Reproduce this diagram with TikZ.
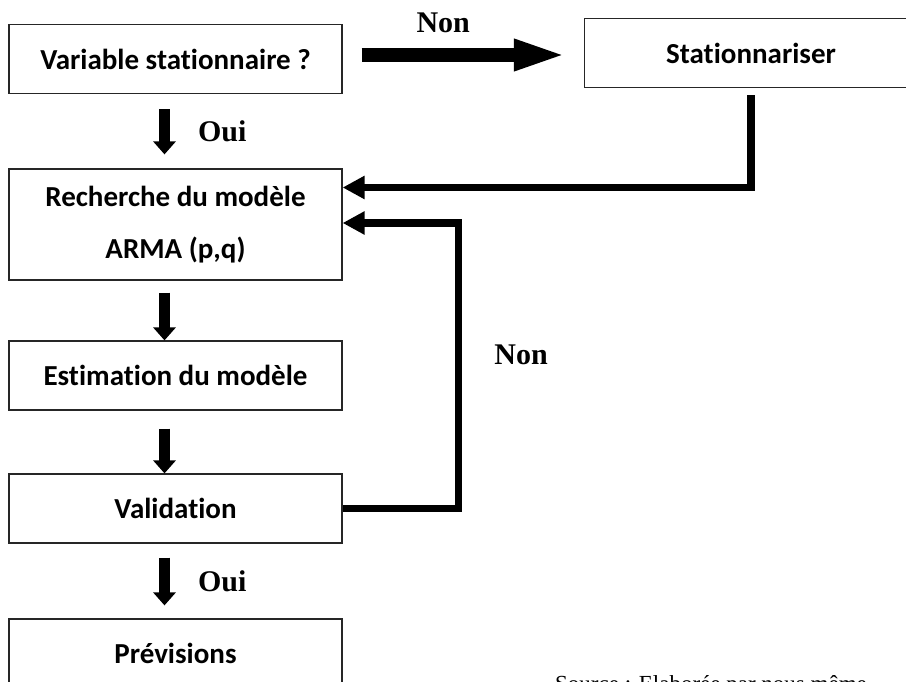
\documentclass[tikz,border=0pt]{standalone}
\usepackage{fontspec}
\setmainfont{Liberation Serif}
\newfontfamily\boxfont[Ligatures=NoCommon]{Carlito}
\usetikzlibrary{arrows.meta}

\begin{document}
\begin{tikzpicture}[x=1pt,y=-1pt,
    box/.style={draw=black!85,line width=1.2pt,rectangle,minimum height=69pt,minimum width=333pt,align=center,font=\boxfont\bfseries\fontsize{29}{52}\selectfont},
    fatarrow/.style={line width=14pt,-{Triangle[length=54pt,width=28pt]}},
    downarrow/.style={line width=11pt,-{Triangle[length=13pt,width=22pt]}},
    looparrow/.style={line width=7.5pt,-{Triangle[length=22pt,width=22pt]}},
    answer/.style={inner sep=0pt,font=\bfseries\fontsize{30}{36}\selectfont}]

        \path[use as bounding box,clip] (0,0) rectangle (906,682);

        \node[box] (var) at (175.5,59) {Variable stationnaire ?};
        \node[box] (stat) at (751,53) {Stationnariser};
        \node[box,minimum height=111pt] (arma) at (175.5,224.5) {Recherche du modèle\\ARMA (p,q)};
        \node[box] (estim) at (175.5,375.5) {Estimation du modèle};
        \node[box] (valid) at (175.5,508.5) {Validation};
        \node[box] (prev) at (175.5,653.5) {Prévisions};
        \node[anchor=north west,inner sep=0pt,font=\fontsize{23}{28}\selectfont] (source) at (555,675) {Source : Elaborée par nous même};

        \draw[fatarrow,shorten <=19pt,shorten >=16pt] ([yshift=4pt]var.east) -- ([yshift=-2pt]stat.west) node[answer,midway,above=15pt,xshift=-20pt] {Non};
        \draw[looparrow,shorten <=7pt] (stat.south) |- ([yshift=37pt]arma.east);
        \draw[looparrow] (valid.east) -- ++(116,0) |- node[answer,pos=0.27,right=32pt] {Non} ([yshift=1.5pt]arma.east);

        \draw[downarrow,shorten <=15pt,shorten >=14pt] ([xshift=-11pt]var.south) -- ([xshift=-11pt]arma.north) node[answer,midway,right=28pt] {Oui};
        \draw[downarrow,shorten <=12pt] ([xshift=-11pt]arma.south) -- ([xshift=-11pt]estim.north);
        \draw[downarrow,shorten <=18pt] ([xshift=-11pt]estim.south) -- ([xshift=-11pt]valid.north);
        \draw[downarrow,shorten <=14pt,shorten >=13pt] ([xshift=-11pt]valid.south) -- ([xshift=-11pt]prev.north) node[answer,midway,right=28pt] {Oui};
    \end{tikzpicture}
\end{document}
